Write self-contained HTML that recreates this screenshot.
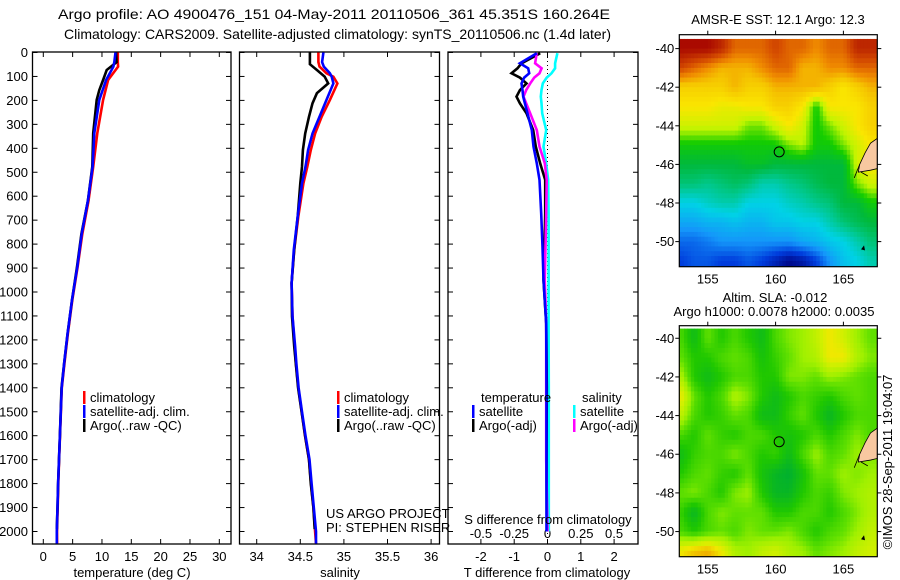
<!DOCTYPE html>
<html><head><meta charset="utf-8"><style>
html,body{margin:0;padding:0;background:#fff;}
svg{display:block;font-family:"Liberation Sans",sans-serif;}
</style></head><body>
<svg id="fig" width="900" height="580" viewBox="0 0 900 580" xmlns="http://www.w3.org/2000/svg">
<text x="58" y="19" font-size="14" textLength="552" lengthAdjust="spacingAndGlyphs">Argo profile: AO 4900476_151 04-May-2011 20110506_361 45.351S 160.264E</text>
<text x="64" y="39" font-size="14" textLength="547" lengthAdjust="spacingAndGlyphs">Climatology: CARS2009. Satellite-adjusted climatology: synTS_20110506.nc (1.4d later)</text>
<g id="g"></g>
</svg>
<script>
// ---- profile data ----
const depthT = [0,40,59,115,198,337,477,619,758,895,1034,1173,1234,1300,1400,1500,1600,1700,1800,1900,2000,2050];
const tempClim = [12.7,12.7,12.75,11.05,10.2,9.2,8.5,7.7,6.65,5.85,4.95,4.2,3.9,3.6,3.15,3.0,2.85,2.7,2.55,2.45,2.33,2.35];
const tempSat  = [12.3,12.1,11.95,10.7,9.55,8.7,8.4,7.6,6.55,5.8,4.9,4.15,3.85,3.55,3.13,2.98,2.83,2.68,2.53,2.42,2.3,2.3];
const depthTArgo = [0,40,73,115,157,198,337,477,619,758,895,1034,1173,1300,1400,1500,1600,1700,1800,1900,1990];
const tempArgo = [12.4,12.5,10.8,10.2,9.55,9.1,8.5,8.35,7.6,6.5,5.75,4.9,4.15,3.55,3.1,2.97,2.83,2.68,2.52,2.42,2.3];

const depthS = [0,40,59,87,101,129,198,268,338,407,477,546,685,824,963,1102,1226,1300,1400,1500,1600,1700,1800,1900,2000,2050];
const salClim = [34.707,34.707,34.72,34.80,34.88,34.925,34.84,34.745,34.67,34.62,34.58,34.535,34.477,34.43,34.40,34.41,34.435,34.45,34.477,34.516,34.554,34.60,34.623,34.65,34.67,34.68];
const salSat  = [34.765,34.75,34.77,34.84,34.86,34.88,34.80,34.72,34.64,34.59,34.56,34.52,34.47,34.425,34.40,34.41,34.44,34.455,34.48,34.52,34.56,34.605,34.63,34.655,34.68,34.68];
const depthSArgo = [0,49,73,101,129,170,212,268,338,407,477,546,685,824,963,1102,1226,1400,1500,1600,1700,1800,1900,1990];
const salArgo = [34.61,34.61,34.69,34.78,34.82,34.69,34.64,34.60,34.556,34.53,34.52,34.50,34.47,34.43,34.40,34.405,34.43,34.475,34.515,34.555,34.60,34.62,34.65,34.665];

const depthD = [3,45,66,87,105,129,157,184,212,254,324,393,463,532,672,811,950,1131,1400,1700,2000];
const dTsat  = [-0.32,-0.83,-0.58,-0.55,-0.7,-0.78,-0.75,-0.73,-0.68,-0.6,-0.47,-0.42,-0.32,-0.24,-0.19,-0.15,-0.12,-0.04,-0.03,-0.03,-0.03];
const dTargo = [-0.22,-0.78,-0.9,-1.08,-0.83,-0.63,-0.83,-0.93,-0.83,-0.63,-0.43,-0.35,-0.22,-0.07,-0.07,-0.09,-0.12,-0.04,-0.02,-0.03,-0.02];
const dSargo = [-0.081,-0.093,-0.044,-0.06,-0.1,-0.13,-0.16,-0.18,-0.16,-0.13,-0.08,-0.06,-0.02,-0.006,-0.01,-0.015,-0.02,-0.01,-0.01,-0.01,0.0];
const dSsat  = [0.074,0.057,0.057,0.03,-0.006,-0.035,-0.045,-0.05,-0.045,-0.04,-0.01,-0.03,-0.01,0.005,0.008,0.008,0.008,0.008,0.01,0.01,0.01];

// ticks
const depthTicks = [0,100,200,300,400,500,600,700,800,900,1000,1100,1200,1300,1400,1500,1600,1700,1800,1900,2000];
const tempTicks = [0,5,10,15,20,25,30];
const salTicks = [34,34.5,35,35.5,36];
const salTickLabels = ["34","34.5","35","35.5","36"];
const dTTicks = [-2,-1,0,1,2];
const dSTicks = [-0.5,-0.25,0,0.25,0.5];
const dSTickLabels = ["-0.5","-0.25","0","0.25","0.5"];

// ---- map data (1-degree cells; lon 153..167, lat -40..-51) ----
const mapLons = [153,154,155,156,157,158,159,160,161,162,163,164,165,166,167];
const mapLats = [-40,-41,-42,-43,-44,-45,-46,-47,-48,-49,-50,-51];
const sstGrid = [
[16.5,16.5,16.5,16,15,15,15,15.5,15,15,14.5,15,15,16,16],
[15.5,15,14.5,14,14,14,14.5,15,15,14,14,14.5,14.5,15,15],
[13.5,13.5,13.5,13.5,14,13.5,13.5,14,14,14,14,13.5,13,13.5,14],
[13,13,13,12.8,12.8,13,13,13.5,13.5,13,11.5,13,13,13,13.5],
[12.5,12.5,12.5,12.5,12.5,12,12,12.5,13,12.5,11.5,12,12.5,13,13.5],
[11.5,11.5,11.5,11.5,11.5,11.5,11.5,11.5,12,12.3,11.5,11.5,12,12.5,13],
[11,11,11,11,11,11.2,11.2,11,11,11,11,11,11,12.5,13],
[10.5,10.5,10.3,10.5,10.7,10.5,10,10,10.3,10.5,10.8,11,11,12,12.5],
[9.5,9.5,9.8,10,10,9.5,9.5,9.5,9.8,10,10.3,10.5,11,11,11.5],
[8.8,8.8,9,9,9.2,9,9,9.3,9.3,9.5,9.5,10,10.5,10.8,11],
[8,8,8.2,8.5,8.5,8.5,8.5,8.5,8.5,8.8,9,9.3,9.5,10,10.5],
[7.5,7.8,7.8,7.5,7.5,7.8,7.5,7,6.5,6.8,7.5,8.5,9.2,9.5,10]];
const slaGrid = [
[0.02,-0.02,0.03,0,0.02,0,-0.02,0.02,0.04,0.05,0.07,0.1,0.08,0.05,0.03],
[0.03,0,0,0.02,0.03,0.02,-0.01,0.01,0.03,0.05,0.06,0.1,0.1,0.06,0.04],
[0.06,0,-0.02,0,0.02,0.02,0,0,0.04,0.04,0.03,0.05,0.04,0.03,0.02],
[0.1,0.03,0,0.02,0.06,0.04,0,-0.02,0,0.02,0.01,0,0.02,0.03,0.02],
[0.07,0.02,0,0.01,0.03,0.02,-0.02,-0.02,0.01,0.03,0,-0.03,0,0.02,0.02],
[0.02,0,0.03,0.01,0,0.02,0.02,0,-0.01,0,0.02,0,0.02,0.04,0.02],
[-0.02,0.01,0.02,0.02,0.04,0.02,0,0.01,-0.02,0.02,0.05,0.02,0.03,0.05,0.04],
[0,0.02,0.03,0.01,0,0.03,-0.01,-0.03,-0.04,-0.01,0.03,0.03,0.05,0.04,0.05],
[0.03,0.04,0.02,0,0.04,0.05,0,-0.03,-0.03,0,0.02,0.01,0.04,0.05,0.06],
[0.01,-0.03,0.02,0.04,0.03,0.03,0.03,0,0,0.02,0.02,0,0.02,0.04,0.06],
[0.02,0,0.02,0.03,0.02,0.04,0.03,0.03,0.04,0.02,0,0.02,0.03,0.05,0.07],
[0.1,0.12,0.13,0.1,0.06,0.05,0.07,0.08,0.06,0.05,0.03,0.04,0.05,0.07,0.08]];
const argoLon = 160.264, argoLat = -45.351;
const lonTicks = [155,160,165];
const latTicks = [-40,-42,-44,-46,-48,-50];

const NS = "http://www.w3.org/2000/svg";
const G = document.getElementById('g');
function el(tag, attrs, parent, text){
  const e = document.createElementNS(NS, tag);
  for (const k in attrs) e.setAttribute(k, attrs[k]);
  if (text !== undefined) e.textContent = text;
  (parent || G).appendChild(e);
  return e;
}
const FS = 13;
const Y0 = 52.5, YK = 0.2395;
const yD = d => Y0 + d * YK;
const xT = t => 43.3 + t * 5.867;
const xS = s => 256.7 + (s - 34) * 87.2;
const xDT = t => 547.5 + t * 33.3;
const xDS = s => 547.5 + s * 133.2;

function frame(x0, x1, name){
  const r = el('rect', {x:x0, y:52, width:x1-x0, height:492, fill:'none', stroke:'#000', 'stroke-width':1.3});
  
  
  depthTicks.forEach(d => {
    el('line', {x1:x0, x2:x0+5, y1:yD(d), y2:yD(d), stroke:'#000'});
    el('line', {x1:x1, x2:x1-5, y1:yD(d), y2:yD(d), stroke:'#000'});
  });
}
function xticks(vals, fx, labels, name){
  vals.forEach((v, i) => {
    const x = fx(v);
    el('line', {x1:x, x2:x, y1:544, y2:539, stroke:'#000'});
    el('line', {x1:x, x2:x, y1:52, y2:57, stroke:'#000'});
    const t = el('text', {x:x, y:561, 'text-anchor':'middle', 'font-size':FS}, G, labels ? labels[i] : String(v));
    
    
  });
}
function line(xs, ds, fx, color, name, w){
  const pts = xs.map((v, i) => fx(v).toFixed(1) + ',' + yD(ds[i]).toFixed(1)).join(' ');
  const p = el('polyline', {points:pts, fill:'none', stroke:color, 'stroke-width':w || 2.6, 'stroke-linejoin':'miter'});
  
  
}

frame(32.5, 231, 'temperature-axes');
frame(239.5, 439.5, 'salinity-axes');
frame(448, 638, 'difference-axes');

depthTicks.forEach(d => {
  const t = el('text', {x:28, y:yD(d)+4.5, 'text-anchor':'end', 'font-size':FS}, G, String(d));
  
  
});
xticks(tempTicks, xT, null, 'temperature-tick-label');
xticks(salTicks, xS, salTickLabels, 'salinity-tick-label');
xticks(dTTicks, xDT, null, 't-diff-tick-label');
dSTicks.forEach((v, i) => {
  const t = el('text', {x:xDS(v), y:538, 'text-anchor':'middle', 'font-size':FS}, G, dSTickLabels[i]);
  
  
});

const z = el('line', {x1:xDT(0), x2:xDT(0), y1:53, y2:543, stroke:'#000', 'stroke-dasharray':'1,3', 'stroke-width':1});



line(tempClim, depthT, xT, '#ff0000', 'temp-climatology-line');
line(tempArgo, depthTArgo, xT, '#000000', 'temp-argo-line');
line(tempSat, depthT, xT, '#0000ff', 'temp-satellite-line');
line(salClim, depthS, xS, '#ff0000', 'sal-climatology-line');
line(salArgo, depthSArgo, xS, '#000000', 'sal-argo-line');
line(salSat, depthS, xS, '#0000ff', 'sal-satellite-line');
line(dSsat, depthD, xDS, '#00ffff', 's-diff-satellite-line');
line(dTargo, depthD, xDT, '#000000', 't-diff-argo-line');
line(dSargo, depthD, xDS, '#ff00ff', 's-diff-argo-line');
line(dTsat, depthD, xDT, '#0000ff', 't-diff-satellite-line');

function legend(x, y, color, label, name){
  const g = el('g', {});
  
  
  el('rect', {x:x, y:y-11, width:2.5, height:13, fill:color}, g);
  el('text', {x:x+7, y:y, 'font-size':FS}, g, label);
}
legend(83, 402, '#ff0000', 'climatology', 'legend-temp-climatology');
legend(83, 416, '#0000ff', 'satellite-adj. clim.', 'legend-temp-satellite');
legend(83, 430, '#000000', 'Argo(..raw -QC)', 'legend-temp-argo');
legend(337, 402, '#ff0000', 'climatology', 'legend-sal-climatology');
legend(337, 416, '#0000ff', 'satellite-adj. clim.', 'legend-sal-satellite');
legend(337, 430, '#000000', 'Argo(..raw -QC)', 'legend-sal-argo');
el('text', {x:481, y:402, 'font-size':FS,  }, G, 'temperature');
el('text', {x:582, y:402, 'font-size':FS,  }, G, 'salinity');
legend(472, 416, '#0000ff', 'satellite', 'legend-t-diff-satellite');
legend(472, 430, '#000000', 'Argo(-adj)', 'legend-t-diff-argo');
legend(573, 416, '#00ffff', 'satellite', 'legend-s-diff-satellite');
legend(573, 430, '#ff00ff', 'Argo(-adj)', 'legend-s-diff-argo');

el('text', {x:326, y:518, 'font-size':FS,  }, G, 'US ARGO PROJECT');
el('text', {x:326, y:532, 'font-size':FS,  }, G, 'PI: STEPHEN RISER');
el('text', {x:548, y:524, 'text-anchor':'middle', 'font-size':FS,  }, G, 'S difference from climatology');
el('text', {x:132, y:577, 'text-anchor':'middle', 'font-size':FS,  }, G, 'temperature (deg C)');
el('text', {x:340, y:577, 'text-anchor':'middle', 'font-size':FS,  }, G, 'salinity');
el('text', {x:547, y:577, 'text-anchor':'middle', 'font-size':FS,  }, G, 'T difference from climatology');

// ---- maps ----
function lerpStops(stops, v){
  if (v <= stops[0][0]) return 'rgb(' + stops[0][1].join(',') + ')';
  for (let i = 1; i < stops.length; i++){
    if (v <= stops[i][0]){
      const [a, ca] = stops[i-1], [b, cb] = stops[i];
      const f = (v - a) / (b - a);
      return 'rgb(' + ca.map((x, k) => Math.round(x + (cb[k] - x) * f)).join(',') + ')';
    }
  }
  return 'rgb(' + stops[stops.length-1][1].join(',') + ')';
}
const sstStops = [[6.5,[0,10,140]],[7.5,[0,60,220]],[8.5,[20,150,250]],[9.5,[0,210,230]],[10.3,[0,200,140]],[11,[0,185,60]],[11.6,[20,205,0]],[12.3,[190,245,0]],[13,[250,230,0]],[13.8,[245,195,0]],[14.5,[240,140,0]],[15.3,[215,80,0]],[16.5,[170,10,0]]];
const slaStops = [[-0.04,[0,176,48]],[0,[32,200,0]],[0.03,[96,224,0]],[0.05,[160,240,0]],[0.08,[208,240,0]],[0.1,[240,232,0]],[0.13,[240,176,0]]];

function sample(grid, fr, fc){
  const R = grid.length - 1, C = grid[0].length - 1;
  fr = Math.max(0, Math.min(R, fr)); fc = Math.max(0, Math.min(C, fc));
  const r0 = Math.floor(fr), c0 = Math.floor(fc);
  const r1 = Math.min(R, r0 + 1), c1 = Math.min(C, c0 + 1);
  const a = fr - r0, b = fc - c0;
  return (grid[r0][c0]*(1-b) + grid[r0][c1]*b)*(1-a) + (grid[r1][c0]*(1-b) + grid[r1][c1]*b)*a;
}

function drawMap(mx0, my0, mx1, my1, latTop, latBot, grid, stops, name, id){
  const lon0 = 152.9, lon1 = 167.5;
  const fx = lon => mx0 + (lon - lon0) / (lon1 - lon0) * (mx1 - mx0);
  const fy = lat => my0 + (latTop - lat) / (latTop - latBot) * (my1 - my0);
  const cp = el('clipPath', {id:id});
  el('rect', {x:mx0, y:my0, width:mx1-mx0, height:my1-my0}, cp);
  const g = el('g', {'clip-path':'url(#' + id + ')'});
  
  
  const sub = 4, step = 1 / sub;
  const lonA = mapLons[0], latA = mapLats[0];
  for (let lat = latA + 0.5; lat > mapLats[mapLats.length-1] - 0.5 - 1e-6; lat -= step){
    for (let lon = lonA - 0.5; lon < mapLons[mapLons.length-1] + 0.5 - 1e-6; lon += step){
      const fr = (latA - (lat - step/2)), fc = (lon + step/2 - lonA);
      const v = sample(grid, fr, fc);
      const x = fx(lon), y = fy(lat);
      const cell = el('rect', {x:x.toFixed(2), y:y.toFixed(2), width:(fx(lon+step)-x+0.5).toFixed(2), height:(fy(lat-step)-y+0.5).toFixed(2), fill:lerpStops(stops, v)}, g);
      
      
    }
  }
  const land = el('path', {d:'M' + fx(167.6) + ',' + fy(-44.6) + ' L' + fx(167.0) + ',' + fy(-44.9) + ' L' + fx(166.6) + ',' + fy(-45.4) + ' L' + fx(166.2) + ',' + fy(-46.0) + ' L' + fx(166.1) + ',' + fy(-46.4) + ' L' + fx(167.0) + ',' + fy(-46.3) + ' L' + fx(167.6) + ',' + fy(-46.2) + ' Z', fill:'#f8c8a0', stroke:'#000', 'stroke-width':0.8}, g);
  
  
  el('path', {d:'M' + fx(166.2) + ',' + fy(-46.0) + ' L' + fx(165.8) + ',' + fy(-46.7) + ' M' + fx(166.3) + ',' + fy(-46.4) + ' L' + fx(166.8) + ',' + fy(-46.6), stroke:'#000', fill:'none', 'stroke-width':0.8}, g);
  el('path', {d:'M' + fx(166.3) + ',' + fy(-50.4) + ' l3,-4 l1,5 z', fill:'#000'}, g);
  el('rect', {x:mx0, y:my0, width:mx1-mx0, height:my1-my0, fill:'none', stroke:'#000', 'stroke-width':1.2});
  const ring = el('circle', {cx:fx(argoLon), cy:fy(argoLat), r:5, fill:'none', stroke:'#000', 'stroke-width':1});
  
  
  lonTicks.forEach(lon => {
    el('line', {x1:fx(lon), x2:fx(lon), y1:my0, y2:my0-4, stroke:'#000'});
    const t = el('text', {x:fx(lon), y:my1+17, 'text-anchor':'middle', 'font-size':FS}, G, String(lon));
    
    
  });
  latTicks.forEach(lat => {
    el('line', {x1:mx0, x2:mx0-4, y1:fy(lat), y2:fy(lat), stroke:'#000'});
    el('line', {x1:mx1, x2:mx1+4, y1:fy(lat), y2:fy(lat), stroke:'#000'});
    const t = el('text', {x:mx0-5, y:fy(lat)+4.5, 'text-anchor':'end', 'font-size':FS}, G, String(lat));
    
    
  });
}
drawMap(679.3, 34.7, 877.3, 266.7, -39.28, -51.3, sstGrid, sstStops, 'sst-map', 'clipSst');
drawMap(679.3, 325.7, 877.3, 556.7, -39.35, -51.3, slaGrid, slaStops, 'sla-map', 'clipSla');

el('text', {x:778, y:24, 'text-anchor':'middle', 'font-size':FS,  }, G, 'AMSR-E SST: 12.1 Argo: 12.3');
el('text', {x:775, y:302, 'text-anchor':'middle', 'font-size':FS,  }, G, 'Altim. SLA: -0.012');
el('text', {x:774, y:316, 'text-anchor':'middle', 'font-size':FS,  }, G, 'Argo h1000: 0.0078 h2000: 0.0035');
el('text', {x:0, y:0, 'text-anchor':'middle', 'font-size':FS, transform:'translate(892,462) rotate(-90)',  }, G, '©IMOS 28-Sep-2011 19:04:07');
</script>
</body></html>
